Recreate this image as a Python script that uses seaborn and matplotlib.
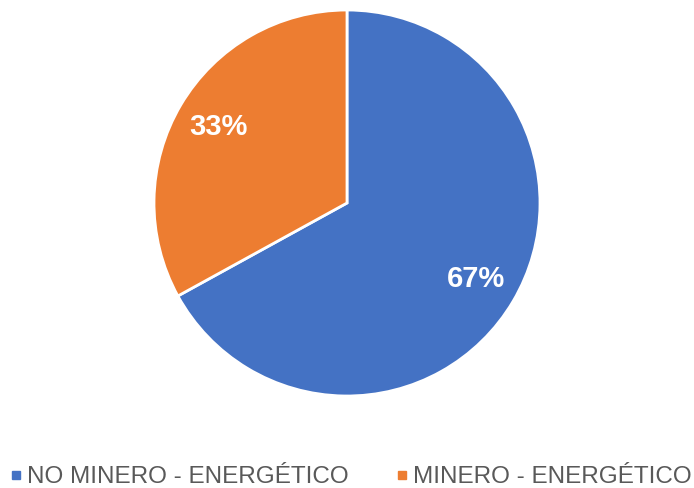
import matplotlib.pyplot as plt
import seaborn as sns
from matplotlib.lines import Line2D

sns.set_theme(style="white")
plt.rcParams["font.family"] = ["Liberation Sans", "DejaVu Sans"]

categories = ["NO MINERO - ENERGÉTICO", "MINERO - ENERGÉTICO"]
shares = [67, 33]
colors = ["#4472C4", "#ED7D31"]

fig = plt.figure(figsize=(6.94, 4.88), dpi=100)
ax = fig.add_axes([0.2219, 0.1885, 0.5562, 0.791])

wedges, texts, autotexts = ax.pie(
    shares,
    colors=colors,
    startangle=90,
    counterclock=False,
    autopct="%1.0f%%",
    pctdistance=0.775,
    wedgeprops={"edgecolor": "white", "linewidth": 2},
    textprops={"color": "white", "fontsize": 21, "fontweight": "bold"},
)
ax.set_aspect("equal")
ax.set_xlim(-1, 1)
ax.set_ylim(-1, 1)

handles = [
    Line2D([], [], marker="s", linestyle="", markersize=6, color=c)
    for c in colors
]
fig.legend(
    handles,
    categories,
    loc="center",
    bbox_to_anchor=(0.503, 0.022),
    ncol=2,
    frameon=False,
    fontsize=17.5,
    labelcolor="#595959",
    handletextpad=0.05,
    columnspacing=1.8,
    handlelength=0.8,
)

fig.savefig("out.png", dpi=100)
